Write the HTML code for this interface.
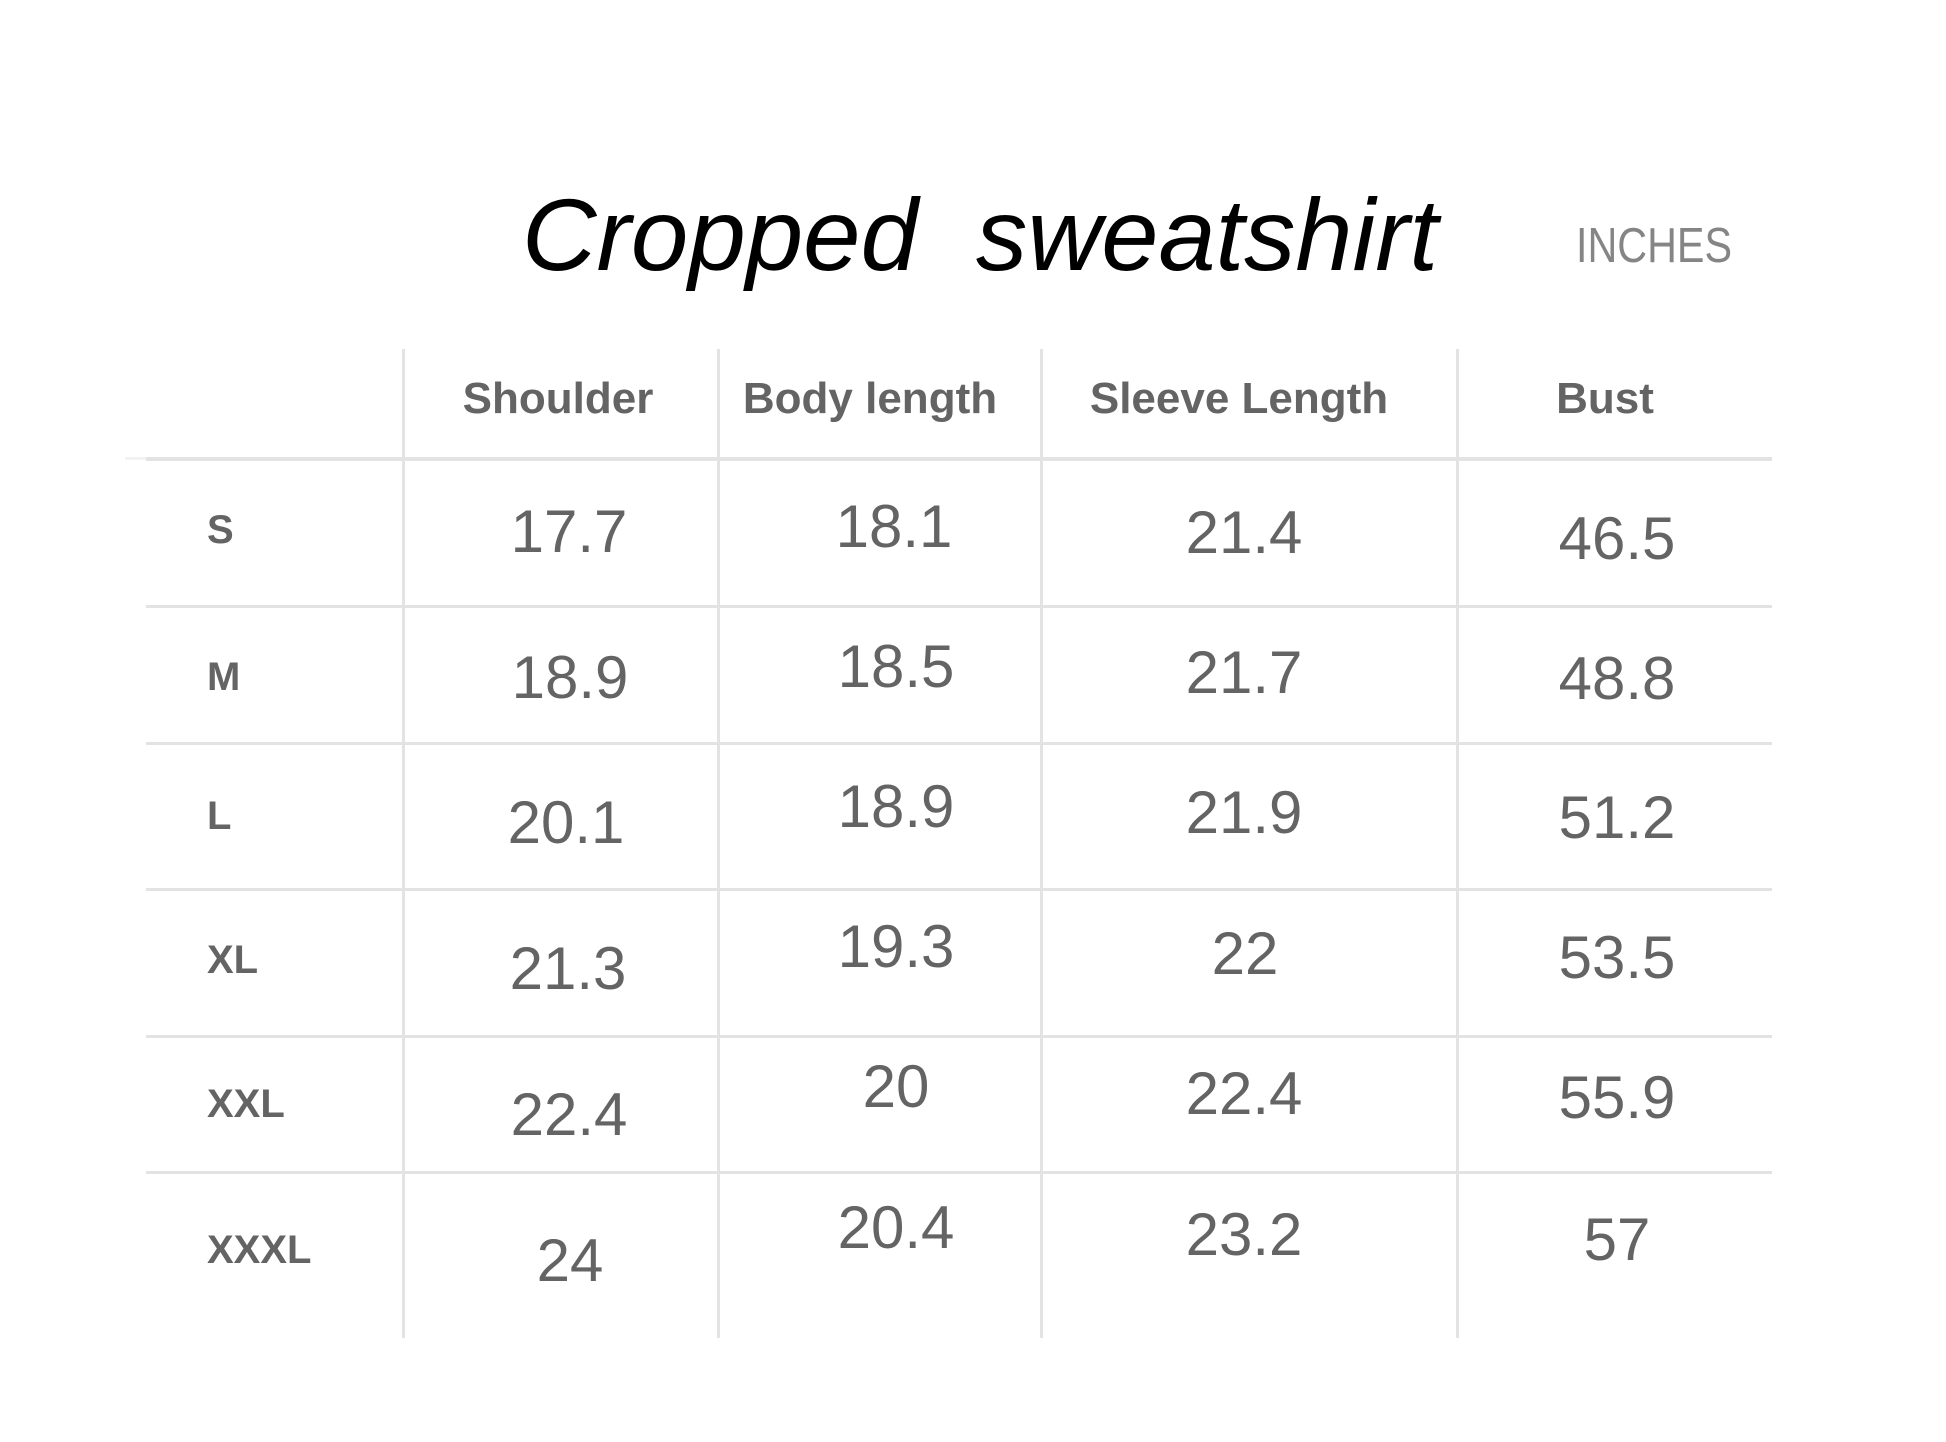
<!DOCTYPE html>
<html>
<head>
<meta charset="utf-8">
<style>
  html, body { margin: 0; padding: 0; background: #ffffff; }
  svg { display: block; }
  .title { font-family: "Liberation Sans", Arial, sans-serif; font-style: italic; font-size: 102px; fill: #000; }
  .unit { font-family: "Liberation Sans", Arial, sans-serif; font-size: 49px; fill: #858585; }
  .hd { font-family: "Liberation Sans", Arial, sans-serif; font-weight: bold; font-size: 44px; fill: #646464; }
  .lb { font-family: "Liberation Sans", Arial, sans-serif; font-weight: bold; font-size: 40px; fill: #646464; }
  .v { font-family: "Liberation Sans", Arial, sans-serif; font-size: 60px; fill: #646464; text-anchor: middle; }
</style>
</head>
<body>
<svg width="1946" height="1442" viewBox="0 0 1946 1442" xmlns="http://www.w3.org/2000/svg">
  <rect x="0" y="0" width="1946" height="1442" fill="#ffffff"/>

  <!-- Title -->
  <text class="title" x="522" y="270" textLength="396" lengthAdjust="spacingAndGlyphs">Cropped</text>
  <text class="title" x="976" y="270" textLength="462" lengthAdjust="spacingAndGlyphs">sweatshirt</text>
  <text class="unit" x="1576" y="262" textLength="156" lengthAdjust="spacingAndGlyphs">INCHES</text>

  <!-- Grid lines -->
  <g fill="#e3e3e3">
    <rect x="125" y="457" width="21" height="3" fill="#f2f2f2"/>
    <rect x="146" y="457" width="1626" height="4"/>
    <rect x="146" y="605" width="1626" height="3"/>
    <rect x="146" y="742" width="1626" height="3"/>
    <rect x="146" y="888" width="1626" height="3"/>
    <rect x="146" y="1035" width="1626" height="3"/>
    <rect x="146" y="1171" width="1626" height="3"/>
    <rect x="402" y="349" width="3" height="989"/>
    <rect x="717" y="349" width="3" height="989"/>
    <rect x="1040" y="349" width="3" height="989"/>
    <rect x="1456" y="349" width="3" height="989"/>
  </g>

  <!-- Headers -->
  <text class="hd" x="558" y="413" text-anchor="middle">Shoulder</text>
  <text class="hd" x="870" y="413" text-anchor="middle">Body length</text>
  <text class="hd" x="1239" y="413" text-anchor="middle">Sleeve Length</text>
  <text class="hd" x="1605" y="413" text-anchor="middle">Bust</text>

  <!-- Size labels -->
  <text class="lb" x="207" y="543">S</text>
  <text class="lb" x="207" y="690">M</text>
  <text class="lb" x="207" y="829">L</text>
  <text class="lb" x="207" y="973">XL</text>
  <text class="lb" x="207" y="1117">XXL</text>
  <text class="lb" x="207" y="1263">XXXL</text>

  <!-- Shoulder -->
  <text class="v" x="569" y="552">17.7</text>
  <text class="v" x="570" y="698">18.9</text>
  <text class="v" x="566" y="843">20.1</text>
  <text class="v" x="568" y="989">21.3</text>
  <text class="v" x="569" y="1135">22.4</text>
  <text class="v" x="570" y="1281">24</text>

  <!-- Body length -->
  <text class="v" x="894" y="547">18.1</text>
  <text class="v" x="896" y="687">18.5</text>
  <text class="v" x="896" y="827">18.9</text>
  <text class="v" x="896" y="967">19.3</text>
  <text class="v" x="896" y="1107">20</text>
  <text class="v" x="896" y="1248">20.4</text>

  <!-- Sleeve Length -->
  <text class="v" x="1244" y="553">21.4</text>
  <text class="v" x="1244" y="693">21.7</text>
  <text class="v" x="1244" y="833">21.9</text>
  <text class="v" x="1245" y="974">22</text>
  <text class="v" x="1244" y="1114">22.4</text>
  <text class="v" x="1244" y="1255">23.2</text>

  <!-- Bust -->
  <text class="v" x="1617" y="559">46.5</text>
  <text class="v" x="1617" y="699">48.8</text>
  <text class="v" x="1617" y="838">51.2</text>
  <text class="v" x="1617" y="978">53.5</text>
  <text class="v" x="1617" y="1118">55.9</text>
  <text class="v" x="1617" y="1260">57</text>
</svg>
</body>
</html>
